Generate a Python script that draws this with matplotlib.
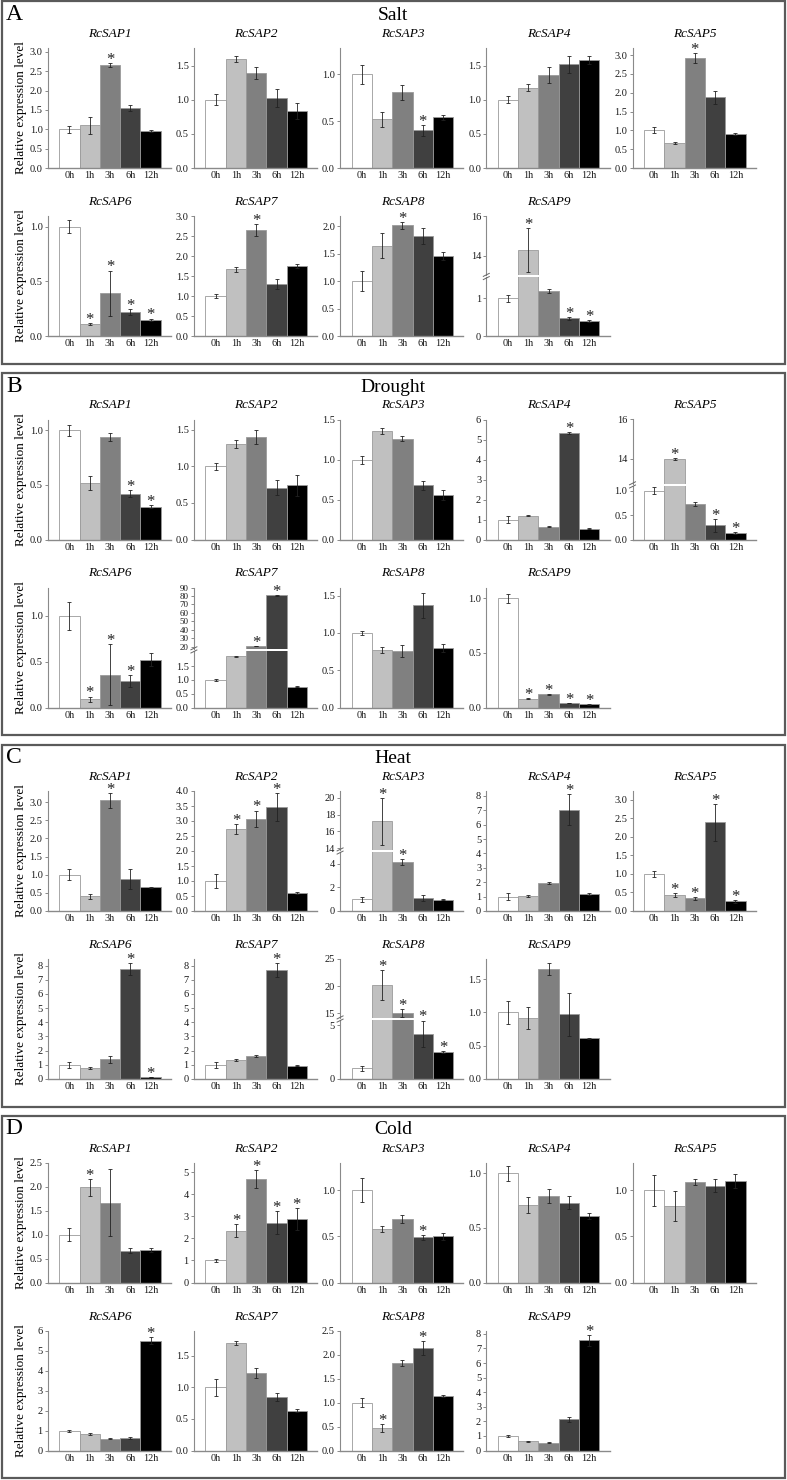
import matplotlib
matplotlib.use("Agg")
import matplotlib.pyplot as plt
from matplotlib.lines import Line2D
from matplotlib.patches import Rectangle
import numpy as np

plt.rcParams['font.family'] = ['Liberation Serif', 'DejaVu Serif']

W, H = 787, 1480

times = ["0h", "1h", "3h", "6h", "12h"]
genes = ["RcSAP1", "RcSAP2", "RcSAP3", "RcSAP4", "RcSAP5",
         "RcSAP6", "RcSAP7", "RcSAP8", "RcSAP9"]
stresses = ["Salt", "Drought", "Heat", "Cold"]
letters = ["A", "B", "C", "D"]
bar_colors = ["#ffffff", "#c0c0c0", "#808080", "#404040", "#000000"]

# ---------------- Salt ----------------
salt_mean = [
    [1.00, 1.10, 2.65, 1.55, 0.95],
    [1.00, 1.60, 1.39, 1.03, 0.84],
    [1.00, 0.52, 0.81, 0.40, 0.54],
    [1.00, 1.18, 1.36, 1.52, 1.58],
    [1.00, 0.66, 2.92, 1.88, 0.90],
    [1.00, 0.11, 0.39, 0.22, 0.15],
    [1.00, 1.67, 2.65, 1.30, 1.75],
    [1.00, 1.65, 2.02, 1.82, 1.46],
    [1.00, 14.3, 1.20, 0.47, 0.40],
]
salt_err = [
    [0.09, 0.21, 0.05, 0.08, 0.03],
    [0.08, 0.04, 0.09, 0.13, 0.12],
    [0.10, 0.08, 0.08, 0.06, 0.03],
    [0.05, 0.05, 0.12, 0.12, 0.06],
    [0.08, 0.03, 0.13, 0.18, 0.02],
    [0.06, 0.005, 0.21, 0.025, 0.01],
    [0.04, 0.06, 0.15, 0.12, 0.06],
    [0.18, 0.23, 0.06, 0.15, 0.07],
    [0.10, 1.10, 0.05, 0.04, 0.02],
]
salt_sig = [[2], [], [3], [], [2], [1, 2, 3, 4], [2], [2], [1, 3, 4]]
salt_ytop = [3.1, 1.76, 1.28, 1.76, 3.19, 1.1, 3.0, 2.19, None]
salt_ystep = [0.5, 0.5, 0.5, 0.5, 0.5, 0.5, 0.5, 0.5, None]

# ---------------- Drought ----------------
drought_mean = [
    [1.00, 0.52, 0.94, 0.42, 0.30],
    [1.00, 1.30, 1.40, 0.71, 0.74],
    [1.00, 1.36, 1.26, 0.68, 0.56],
    [1.00, 1.20, 0.65, 5.33, 0.55],
    [1.00, 14.0, 0.72, 0.29, 0.14],
    [1.00, 0.09, 0.36, 0.29, 0.52],
    [1.00, 1.85, 21.0, 81.0, 0.75],
    [1.00, 0.77, 0.76, 1.37, 0.80],
    [1.00, 0.08, 0.12, 0.04, 0.03],
]
drought_err = [
    [0.05, 0.065, 0.04, 0.03, 0.015],
    [0.045, 0.055, 0.09, 0.105, 0.14],
    [0.05, 0.035, 0.03, 0.055, 0.06],
    [0.18, 0.04, 0.03, 0.05, 0.04],
    [0.07, 0.05, 0.04, 0.13, 0.02],
    [0.15, 0.03, 0.33, 0.065, 0.07],
    [0.04, 0.03, 0.3, 0.5, 0.02],
    [0.03, 0.045, 0.08, 0.165, 0.05],
    [0.04, 0.005, 0.003, 0.003, 0.003],
]
drought_sig = [[3, 4], [], [], [3], [1, 3, 4], [1, 2, 3], [2, 3], [], [1, 2, 3, 4]]
drought_ytop = [1.1, 1.64, 1.5, 6.0, None, 1.31, None, 1.61, 1.1]
drought_ystep = [0.5, 0.5, 0.5, 1, None, 0.5, None, 0.5, 0.5]

# ---------------- Heat ----------------
heat_mean = [
    [1.00, 0.40, 3.05, 0.88, 0.65],
    [1.00, 2.73, 3.08, 3.47, 0.60],
    [1.00, 17.2, 4.15, 1.10, 0.95],
    [1.00, 1.05, 1.95, 7.05, 1.20],
    [1.00, 0.44, 0.34, 2.40, 0.26],
    [1.00, 0.78, 1.38, 7.75, 0.15],
    [1.00, 1.35, 1.62, 7.68, 0.95],
    [1.00, 20.2, 15.0, 4.20, 2.50],
    [1.00, 0.92, 1.65, 0.97, 0.61],
]
heat_err = [
    [0.15, 0.07, 0.20, 0.27, 0.025],
    [0.22, 0.17, 0.27, 0.46, 0.03],
    [0.22, 2.80, 0.25, 0.25, 0.06],
    [0.23, 0.08, 0.10, 1.08, 0.07],
    [0.09, 0.05, 0.04, 0.50, 0.035],
    [0.20, 0.05, 0.27, 0.40, 0.02],
    [0.20, 0.07, 0.07, 0.48, 0.05],
    [0.25, 2.75, 0.75, 1.25, 0.10],
    [0.17, 0.165, 0.09, 0.32, 0.01],
]
heat_sig = [[2], [1, 2, 3], [1, 2], [3], [1, 2, 3, 4], [3, 4], [3], [1, 2, 3, 4], []]
heat_ytop = [3.31, 4.0, None, 8.34, 3.24, 8.46, 8.46, None, 1.8]
heat_ystep = [0.5, 0.5, None, 1, 0.5, 1, 1, None, 0.5]

# ---------------- Cold ----------------
cold_mean = [
    [1.00, 1.98, 1.66, 0.66, 0.68],
    [1.00, 2.35, 4.70, 2.72, 2.90],
    [1.00, 0.58, 0.69, 0.49, 0.50],
    [1.00, 0.71, 0.79, 0.73, 0.61],
    [1.00, 0.83, 1.09, 1.05, 1.10],
    [1.00, 0.85, 0.60, 0.63, 5.50],
    [1.00, 1.70, 1.23, 0.85, 0.63],
    [1.00, 0.47, 1.83, 2.14, 1.14],
    [1.00, 0.62, 0.52, 2.13, 7.55],
]
cold_err = [
    [0.13, 0.17, 0.70, 0.05, 0.04],
    [0.07, 0.30, 0.40, 0.53, 0.50],
    [0.13, 0.03, 0.04, 0.025, 0.04],
    [0.065, 0.07, 0.065, 0.06, 0.025],
    [0.17, 0.16, 0.035, 0.07, 0.075],
    [0.05, 0.05, 0.03, 0.03, 0.17],
    [0.13, 0.03, 0.08, 0.06, 0.025],
    [0.10, 0.075, 0.065, 0.14, 0.02],
    [0.06, 0.03, 0.03, 0.15, 0.35],
]
cold_sig = [[1], [1, 2, 3, 4], [3], [], [], [4], [], [1, 3], [4]]
cold_ytop = [2.5, 5.45, 1.3, 1.1, 1.3, 6.0, 1.9, 2.5, 8.23]
cold_ystep = [0.5, 1, 0.5, 0.5, 0.5, 1, 0.5, 0.5, 1]

# broken-axis subplots: (stress index, gene index)
broken = {
    (0, 8): dict(low_top=1.56, up_bot=13.0, up_top=16.0, frac=0.496,
                 low_ticks=[0, 1], up_ticks=[14, 16], low_fmt="%d", up_fs=7.5),
    (1, 4): dict(low_top=1.1, up_bot=12.73, up_top=16.0, frac=0.455,
                 low_ticks=[0, 0.5, 1.0], up_ticks=[14, 16], low_fmt="%.1f", up_fs=7.5),
    (1, 6): dict(low_top=2.05, up_bot=17.7, up_top=90.0, frac=0.48,
                 low_ticks=[0, 0.5, 1.0, 1.5], up_ticks=[20, 30, 40, 50, 60, 70, 80, 90],
                 low_fmt="%.1f", up_fs=6.5),
    (2, 2): dict(low_top=5.0, up_bot=13.8, up_top=20.8, frac=0.5,
                 low_ticks=[0, 2, 4], up_ticks=[14, 16, 18, 20], low_fmt="%d", up_fs=7.5),
    (2, 7): dict(low_top=5.5, up_bot=14.1, up_top=25.0, frac=0.5,
                 low_ticks=[0, 5], up_ticks=[15, 20, 25], low_fmt="%d", up_fs=7.5),
}

means = [salt_mean, drought_mean, heat_mean, cold_mean]
errs = [salt_err, drought_err, heat_err, cold_err]
sigs = [salt_sig, drought_sig, heat_sig, cold_sig]
ytops = [salt_ytop, drought_ytop, heat_ytop, cold_ytop]
ysteps = [salt_ystep, drought_ystep, heat_ystep, cold_ystep]

SPINE = "#8a8a8a"
TICKC = "#1a1a1a"
FS_TICK = 7.5
FS_XTICK = 7.5
FS_TITLE = 9.5
XLIM = (-1.07, 5.0)

fig = plt.figure(figsize=(W / 100, H / 100), dpi=100)


def fx(px):
    return px / W


def fy(py):
    return 1 - py / H


def style_axis(ax, ylo, yhi, ticks, fmt, show_x, fs=FS_TICK):
    ax.set_facecolor("none")
    ax.set_xlim(*XLIM)
    ax.set_ylim(ylo, yhi)
    ax.spines["top"].set_visible(False)
    ax.spines["right"].set_visible(False)
    ax.spines["left"].set_color(SPINE)
    ax.spines["left"].set_linewidth(0.8)
    if show_x:
        ax.spines["bottom"].set_color(SPINE)
        ax.spines["bottom"].set_linewidth(1.0)
        ax.set_xticks(range(len(times)))
        ax.set_xticklabels(times, fontsize=FS_XTICK, color=TICKC)
        ax.tick_params(axis="x", which="major", length=0, pad=2.5)
        ax.set_xticks([2], minor=True)
        ax.tick_params(axis="x", which="minor", direction="inout", length=4,
                       color=SPINE, width=0.7)
    else:
        ax.spines["bottom"].set_visible(False)
        ax.set_xticks([])
    ax.set_yticks(ticks)
    ax.set_yticklabels([fmt % t for t in ticks], fontsize=fs, color=TICKC)
    ax.tick_params(axis="y", direction="out", length=2.2, width=0.7,
                   color=SPINE, pad=1.5)


def draw_bars(ax, m, e):
    x = np.arange(len(times))
    ax.bar(x, m, width=1.0, color=bar_colors, edgecolor="#9a9a9a", linewidth=0.6,
           yerr=e, error_kw=dict(ecolor="#222222", elinewidth=0.6,
                                 capsize=1.3, capthick=0.6), zorder=2)


def star(ax, i, y):
    ax.annotate("*", xy=(i, y), xytext=(0, 2.2), textcoords="offset points",
                ha="center", va="center", fontsize=12, color="#222222",
                annotation_clip=False, zorder=5)


AX_W = 123.2
AX_H = 120.0
PITCH_X = 146.2
PITCH_P = 371.5

for p in range(4):
    T = 1.5 + PITCH_P * p
    fig.add_artist(Rectangle((fx(2), fy(T + 362)), fx(783), 362 / H,
                             transform=fig.transFigure, fill=False,
                             edgecolor="#5a5a5a", linewidth=1.6))
    fig.text(fx(14), fy(T + 13), letters[p], fontsize=17, ha="center", va="center")
    fig.text(fx(393), fy(T + 14), stresses[p], fontsize=14, ha="center", va="center")

    for g in range(9):
        row, col = divmod(g, 5)
        left = 47.7 + PITCH_X * col
        bottom = (168 if row == 0 else 336) + PITCH_P * p
        top = bottom - AX_H
        m = means[p][g]
        e = errs[p][g]
        sg = sigs[p][g]
        key = (p, g)
        if key in broken:
            b = broken[key]
            gap = 2.0
            low_h = AX_H * b["frac"] - gap / 2
            up_h = AX_H * (1 - b["frac"]) - gap / 2
            axl = fig.add_axes([fx(left), fy(bottom), AX_W / W, low_h / H])
            axu = fig.add_axes([fx(left), fy(top + up_h), AX_W / W, up_h / H])
            draw_bars(axl, m, e)
            draw_bars(axu, m, e)
            style_axis(axl, 0, b["low_top"], b["low_ticks"], b["low_fmt"], True)
            style_axis(axu, b["up_bot"], b["up_top"], b["up_ticks"], "%d", False,
                       fs=b["up_fs"])
            for i in sg:
                yv = m[i] + e[i]
                if m[i] > b["low_top"]:
                    star(axu, i, yv)
                else:
                    star(axl, i, yv)
            # break marks on the y axis
            ybreak = bottom - low_h - gap / 2
            for dy in (-1.6, 1.6):
                fig.add_artist(Line2D([fx(left - 3), fx(left + 3)],
                                      [fy(ybreak + dy + 1.5), fy(ybreak + dy - 1.5)],
                                      transform=fig.transFigure, color="#666666",
                                      linewidth=0.7))
        else:
            ax = fig.add_axes([fx(left), fy(bottom), AX_W / W, AX_H / H])
            draw_bars(ax, m, e)
            ytop = ytops[p][g]
            step = ysteps[p][g]
            ticks = list(np.arange(0, ytop + 1e-9, step))
            fmt = "%.1f" if step < 1 else "%d"
            style_axis(ax, 0, ytop, ticks, fmt, True)
            for i in sg:
                star(ax, i, m[i] + e[i])
        # gene title centred over bars
        fig.text(fx(left + (2 - XLIM[0]) / (XLIM[1] - XLIM[0]) * AX_W), fy(top - 14),
                 genes[g], fontsize=FS_TITLE, style="italic", ha="center", va="center")
        if col == 0:
            fig.text(fx(21), fy(bottom - AX_H / 2), "Relative expression level",
                     fontsize=9.5, rotation=90, ha="center", va="center")

fig.savefig("out.png", dpi=100, facecolor="white")
